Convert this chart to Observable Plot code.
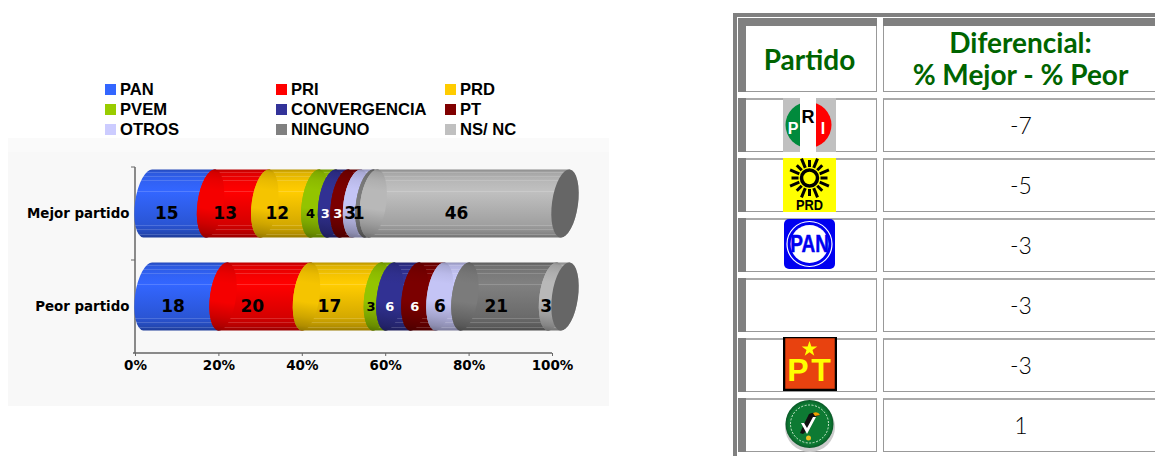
<!DOCTYPE html>
<html lang="es">
<head>
<meta charset="utf-8">
<title>Mejor y peor partido</title>
<script src="https://cdn.jsdelivr.net/npm/d3@7"></script>
<script src="https://cdn.jsdelivr.net/npm/@observablehq/plot@0.6"></script>
<style>
html,body{margin:0;padding:0;background:#fff}
#page{position:relative;width:1155px;height:456px;overflow:hidden;background:#fff}
#plot svg{position:absolute;left:0;top:0;background:transparent}
.abs{position:absolute;box-sizing:border-box}
.leg{position:absolute;font:bold 16.6px "Liberation Sans",Arial,sans-serif;color:#000;line-height:16px;white-space:nowrap}
.sw{position:absolute;width:11px;height:11px}
.cell{position:absolute;box-sizing:border-box;border:1px solid #999;border-top:2px solid #aaa;background:#fff;
  display:flex;align-items:center;justify-content:center;text-align:center}
.head{color:#006400;font:bold 28px/32px "Lato",sans-serif}
.val{color:#000;font:300 23px "Lato",sans-serif;padding:0 0 2px 3px}
.bar{position:absolute;background:#808080}
</style>
</head>
<body>
<div id="page">
  <div class="abs" style="left:8px;top:138px;width:601px;height:268px;background:#f8f8f8"></div>
  <div class="abs" style="left:8px;top:138px;width:601px;height:14px;background:#fafafa"></div>
  <div id="legend"></div>
  <div id="plot"></div>
  <div id="table"></div>
</div>
<script>
// ---- data ----
const parties = ["PAN","PRI","PRD","PVEM","CONVERGENCIA","PT","OTROS","NINGUNO","NS/ NC"];
const colors  = ["#3366FF","#FF0000","#FFCC00","#99CC00","#333399","#800000","#CCCCFF","#808080","#C0C0C0"];
const rows    = ["Mejor partido","Peor partido"];
const mejor   = [15,13,12,4,3,3,3,1,46];
const peor    = [18,20,17,3,6,6,6,21,3];
const xTicks  = [0,20,40,60,80,100];
const tableLogos = ["PRI","PRD","PAN","","PT","PVEM"];
const diferencial = ["-7","-5","-3","-3","-3","1"];

// ---- tidy table ----
const series = [mejor, peor];
const table = rows.flatMap((row, r) => {
  let acc = 0;
  return series[r].map((value, i) => {
    const start = acc; acc += value;
    return {row, party: parties[i], i, value, start, end: acc, mid: (start + acc) / 2};
  });
});
const textColor = d => (d.party === "CONVERGENCIA" || d.party === "PT") ? "#fff" : "#000";
const smallLabel = d => ["PVEM","CONVERGENCIA","PT"].includes(d.party);

// ---- legend ----
const legend = document.getElementById("legend");
const legX = [[105,120],[276,291],[445,460]], legY = [84,104,124];
parties.forEach((p, i) => {
  const col = i % 3, r = Math.floor(i / 3);
  const s = document.createElement("div"); s.className = "sw";
  s.style.cssText = `left:${legX[col][0]}px;top:${legY[r]}px;background:${colors[i]}`;
  const t = document.createElement("div"); t.className = "leg"; t.textContent = p;
  t.style.cssText = `left:${legX[col][1]}px;top:${legY[r]-2}px`;
  legend.append(s, t);
});

// ---- cylinders drawn through the Plot scales ----
function shade(c, k) {
  const o = d3.rgb(c);
  return d3.rgb(o.r*k, o.g*k, o.b*k).formatHex();
}
const profile = [[0,.72],[.04,.86],[.16,.95],[.3,1],[.58,1],[.8,.84],[.93,.72],[1,.6]];
const kAt = t => { for (let j=1;j<profile.length;j++) if (t<=profile[j][0]) {
  const [a,ka]=profile[j-1],[b,kb]=profile[j]; return ka+(kb-ka)*(t-a)/(b-a);} return .6; };
const streaks = [.04,.09,.15,.31,.81,.88,.95];

function cylinders(index, {x, y}) {
  const g = d3.create("svg:g");
  const defs = g.append("defs");
  colors.forEach((c, i) => {
    const lens = defs.append("linearGradient").attr("id","lens"+i).attr("x1",0).attr("x2",0).attr("y1",0).attr("y2",1);
    profile.forEach(([t,k]) => lens.append("stop").attr("offset",t).attr("stop-color",shade(c,k*.96)));
    const body = defs.append("linearGradient").attr("id","body"+i).attr("x1",0).attr("x2",0).attr("y1",0).attr("y2",1);
    const stops = []; let last = 0;
    streaks.forEach(s => {
      const light = d3.interpolateRgb(shade(c,kAt(s)),"#fff")(.16);
      stops.push([last, shade(c,kAt(last))], [s, shade(c,kAt(s))], [s, light], [s+.016, light]);
      last = s + .016;
    });
    stops.push([last, shade(c,kAt(last))],[1, shade(c,.6)]);
    stops.forEach(([t,col]) => body.append("stop").attr("offset",t).attr("stop-color",col));
  });
  const rx = 13, ry = 34.3, rot = 8, rad = rot*Math.PI/180;
  const dx = ry*Math.sin(rad), dy = ry*Math.cos(rad);
  const bw = y(rows[1]) - y(rows[0]);
  rows.forEach(row => {
    const cy = y(row) + bw/2 - 10;
    table.filter(d => d.row === row).forEach(d => {
      const a = x(d.start) + rx, b = x(d.end) + rx;
      g.append("path").attr("fill",`url(#body${d.i})`).attr("d",
        `M${a+dx},${cy-dy}L${b+dx},${cy-dy}A${rx},${ry} ${rot} 0 1 ${b-dx},${cy+dy}L${a-dx},${cy+dy}A${rx},${ry} ${rot} 0 1 ${a+dx},${cy-dy}Z`);
      if (d.start > 0)
        g.append("ellipse").attr("cx",a).attr("cy",cy).attr("rx",rx).attr("ry",ry)
          .attr("transform",`rotate(${rot} ${a} ${cy})`).attr("fill",`url(#lens${d.i})`);
    });
    const e = x(100) + rx;
    g.append("ellipse").attr("cx",e).attr("cy",cy).attr("rx",rx).attr("ry",ry)
      .attr("transform",`rotate(${rot} ${e} ${cy})`).attr("fill","#666");
  });
  return g.node();
}
function frame(index, {x, y}) {
  const g = d3.create("svg:g").attr("stroke","#666").attr("stroke-width",1.5);
  const bw = y(rows[1]) - y(rows[0]);
  const bottom = y(rows[rows.length-1]) + bw;
  g.append("line").attr("x1",x(0)).attr("x2",x(0)).attr("y1",y(rows[0])).attr("y2",bottom);
  g.append("line").attr("x1",x(0)-2).attr("x2",x(100)).attr("y1",bottom).attr("y2",bottom);
  rows.map(r => y(r)).forEach(p =>
    g.append("line").attr("x1",x(0)-4).attr("x2",x(0)).attr("y1",p).attr("y2",p).attr("stroke-width",1));
  return g.node();
}

const chart = Plot.plot({
  width: 1155, height: 456,
  marginLeft: 135, marginRight: 603, marginTop: 166, marginBottom: 103,
  style: {background: "transparent", fontFamily: "'DejaVu Sans',sans-serif"},
  x: {domain: [0,100]},
  y: {type: "band", domain: rows, padding: 0},
  marks: [
    frame,
    cylinders,
    Plot.axisX({ticks:xTicks, tickFormat:d=>d+"%", tickSize:3, tickPadding:4, stroke:"#666", label:null,
      fontSize:13.5, fontWeight:"bold", fill:"#000"}),
    Plot.axisY({tickSize:0, tickPadding:6, label:null, fontSize:13.4, fontWeight:"bold", fill:"#000"}),
    Plot.text(table, {x:"mid", y:"row", text:"value", fill:textColor, fontWeight:"bold",
      fontSize: d => smallLabel(d) ? 13 : 17, fontFamily:"'DejaVu Sans',sans-serif"})
  ]
});
document.getElementById("plot").append(chart);

// ---- logos ----
const raysPRD = d3.range(16).map(i => {
  const a = i/16*2*Math.PI, r1 = 11, r2 = i%2 ? 21 : 18;
  return `<line x1="${26.5+r1*Math.cos(a)}" y1="${20+r1*Math.sin(a)}" x2="${26.5+r2*Math.cos(a)}" y2="${20+r2*Math.sin(a)}" stroke="#000" stroke-width="3"/>`;
}).join("");
const logos = {
  PRI: `<clipPath id="pric"><circle cx="25.500" cy="27" r="23"/></clipPath>
    <rect width="53" height="54" fill="#c0c0c0"/><rect x="17" width="16" height="54" fill="#fff"/>
    <g clip-path="url(#pric)"><rect x="0" width="17" height="54" fill="#008a3c"/><rect x="33" width="20" height="54" fill="#ff0000"/></g>
    <text x="10" y="36" font-size="16" font-weight="bold" fill="#fff" font-family="Liberation Sans Narrow,Liberation Sans" text-anchor="middle">P</text>
    <text x="25" y="25" font-size="18" font-weight="bold" fill="#000" font-family="Liberation Sans Narrow,Liberation Sans" text-anchor="middle">R</text>
    <text x="40" y="36" font-size="16" font-weight="bold" fill="#fff" font-family="Liberation Sans Narrow,Liberation Sans" text-anchor="middle">I</text>`,
  PRD: `<rect width="53" height="54" fill="#ffff00"/>${raysPRD}<circle cx="26.500" cy="20" r="8" fill="#ffff00" stroke="#000" stroke-width="3.500"/>
    <text x="26.500" y="52" font-size="15" font-weight="bold" fill="#000" font-family="Liberation Sans" text-anchor="middle" textLength="27" lengthAdjust="spacingAndGlyphs">PRD</text>`,
  PAN: `<rect x="1" y="1" width="51" height="50" rx="5" fill="#0000f0"/><circle cx="26.500" cy="26" r="22.500" fill="none" stroke="#fff" stroke-width="1.200"/><circle cx="26.500" cy="26" r="19" fill="#fff"/>
    <g transform="translate(26.500,34) scale(1,1.300)"><text font-size="19" font-weight="bold" fill="#0000f0" stroke="#0000f0" stroke-width=".4" font-family="Liberation Sans Narrow,Liberation Sans" text-anchor="middle">PAN</text></g>`,
  PT: `<rect x="1" y="0" width="52" height="53" fill="#e8420f" stroke="#000" stroke-width="2.500"/>
    <path d="M26.500 4l1.900 5.600h5.900l-4.800 3.500 1.800 5.600-4.800-3.500-4.800 3.500 1.800-5.600-4.800-3.500h5.900z" fill="#ffff00"/>
    <text x="15" y="44" font-size="32" font-weight="bold" fill="#ffff00" font-family="Liberation Sans" text-anchor="middle">P</text>
    <text x="38" y="44" font-size="32" font-weight="bold" fill="#ffff00" font-family="Liberation Sans" text-anchor="middle">T</text>`,
  PVEM: `<defs><radialGradient id="pv"><stop offset=".85" stop-color="#0d7a33"/><stop offset="1" stop-color="#0a5a28"/></radialGradient></defs>
    <ellipse cx="27" cy="29" rx="25" ry="25" fill="#ccc"/><circle cx="26.500" cy="26" r="24" fill="url(#pv)"/>
    <circle cx="26.500" cy="26" r="19" fill="none" stroke="#cfe8cf" stroke-width="1" stroke-dasharray="2 1.500"/>
    <path d="M26 16q7-3 11 1l-5 2-5 11-7 6-3-1 4-9z" fill="#111"/><path d="M30 15q5-2 7 2l-5 1z" fill="#f0a000"/>
    <path d="M18 25l6 11 9-17-3 0-6 11-3-5z" fill="#fff"/><circle cx="25.500" cy="40" r="2.500" fill="#e8c020"/>`
};

// ---- table ----
const tbl = document.getElementById("table");
const add = (html) => { const t = document.createElement("template"); t.innerHTML = html.trim(); tbl.append(t.content.firstChild); };
const col1 = [738,877], col2 = [883,1156];
add(`<div class="bar" style="left:733px;top:13px;width:4px;height:443px"></div>`);
add(`<div class="bar" style="left:733px;top:13px;width:422px;height:4px"></div>`);
add(`<div class="cell head" style="left:${col1[0]}px;top:18px;width:${col1[1]-col1[0]}px;height:74px;padding-left:4px;padding-top:7px">Partido</div>`);
add(`<div class="cell head" style="left:${col2[0]}px;top:18px;width:${col2[1]-col2[0]}px;height:74px;padding-top:5px;padding-left:2px">Diferencial:<br>% Mejor - % Peor</div>`);
add(`<div class="bar" style="left:${col1[0]}px;top:18px;width:8px;height:74px"></div>`);
add(`<div class="bar" style="left:${col1[0]}px;top:18px;width:${col1[1]-col1[0]}px;height:8px"></div>`);
add(`<div class="bar" style="left:${col2[0]}px;top:18px;width:${col2[1]-col2[0]}px;height:8px"></div>`);
diferencial.forEach((v, i) => {
  const top = 98 + 60*i;
  add(`<div class="cell" style="left:${col1[0]}px;top:${top}px;width:${col1[1]-col1[0]}px;height:54px"></div>`);
  add(`<div class="bar" style="left:${col1[0]}px;top:${top}px;width:8px;height:54px"></div>`);
  add(`<div class="cell val" style="left:${col2[0]}px;top:${top}px;width:${col2[1]-col2[0]}px;height:54px">${v}</div>`);
  const k = tableLogos[i];
  if (k) add(`<svg style="position:absolute;left:783px;top:${k==="PT"?top-1:top}px" width="54" height="54" viewBox="0 0 54 54">${logos[k]}</svg>`);
});
</script>
</body>
</html>
